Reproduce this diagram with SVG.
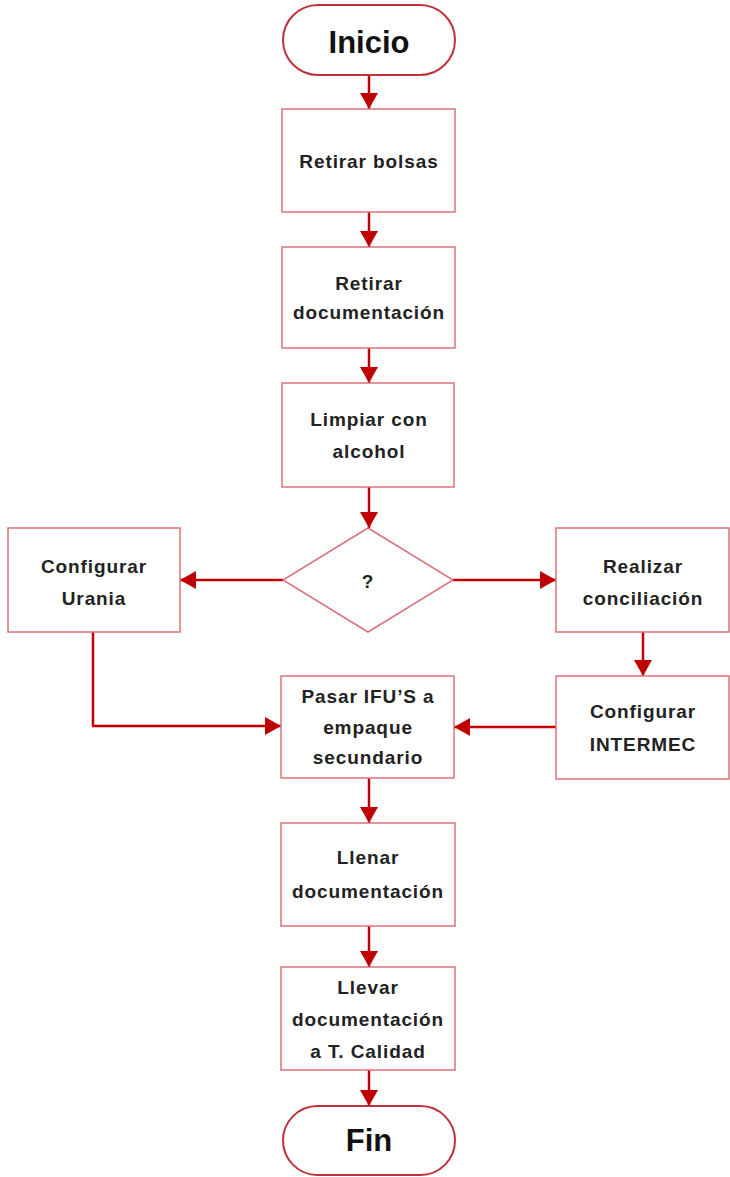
<svg xmlns="http://www.w3.org/2000/svg" width="730" height="1177" viewBox="0 0 730 1177">
  <style>
    .box { fill: #ffffff; stroke: #d9737b; stroke-width: 1.5; }
    .term { fill: #ffffff; stroke: #c0303a; stroke-width: 2; }
    .lbl { font-family: "Liberation Sans", Arial, sans-serif; font-weight: bold; font-size: 19px; fill: #222222; text-anchor: middle; letter-spacing: 0.9px; }
    .big { font-family: "Liberation Sans", Arial, sans-serif; font-weight: bold; font-size: 31px; fill: #111111; text-anchor: middle; }
    .flow { fill: none; stroke: #c00000; stroke-width: 2.5; marker-end: url(#head); }
  </style>
  <defs>
    <marker id="head" markerUnits="userSpaceOnUse" markerWidth="17" markerHeight="18" refX="16" refY="9" orient="auto">
      <polygon points="0,0 16,9 0,18" fill="#c00000"/>
    </marker>
  </defs>
  <rect width="730" height="1177" fill="#ffffff"/>

  <g id="connectors">
    <line class="flow" x1="369" y1="75" x2="369" y2="109"/>
    <line class="flow" x1="369" y1="212" x2="369" y2="247"/>
    <line class="flow" x1="369" y1="348" x2="369" y2="383"/>
    <line class="flow" x1="369" y1="487" x2="369" y2="528"/>
    <line class="flow" x1="283" y1="580" x2="180" y2="580"/>
    <line class="flow" x1="453" y1="580" x2="556" y2="580"/>
    <line class="flow" x1="643" y1="632" x2="643" y2="676"/>
    <polyline class="flow" points="93,632 93,726 281,726"/>
    <line class="flow" x1="556" y1="727" x2="454" y2="727"/>
    <line class="flow" x1="369" y1="778" x2="369" y2="823"/>
    <line class="flow" x1="369" y1="926" x2="369" y2="967"/>
    <line class="flow" x1="369" y1="1070" x2="369" y2="1106"/>
  </g>

  <g id="inicio">
    <rect class="term" x="283" y="5" width="172" height="70" rx="35" ry="35"/>
    <text class="big" x="369" y="53">Inicio</text>
  </g>
  <g id="retirar-bolsas">
    <rect class="box" x="282" y="109" width="173" height="103"/>
    <text class="lbl" x="369" y="168">Retirar bolsas</text>
  </g>
  <g id="retirar-documentacion">
    <rect class="box" x="282" y="247" width="173" height="101"/>
    <text class="lbl" x="369" y="290">Retirar</text>
    <text class="lbl" x="369" y="319">documentación</text>
  </g>
  <g id="limpiar">
    <rect class="box" x="282" y="383" width="172" height="104"/>
    <text class="lbl" x="369" y="426">Limpiar con</text>
    <text class="lbl" x="369" y="458">alcohol</text>
  </g>
  <g id="decision">
    <polygon class="box" points="368,528 453,580 368,632 283,580"/>
    <text class="lbl" x="368" y="588">?</text>
  </g>
  <g id="configurar-urania">
    <rect class="box" x="8" y="528" width="172" height="104"/>
    <text class="lbl" x="94" y="573">Configurar</text>
    <text class="lbl" x="94" y="605">Urania</text>
  </g>
  <g id="realizar-conciliacion">
    <rect class="box" x="556" y="528" width="173" height="104"/>
    <text class="lbl" x="643" y="573">Realizar</text>
    <text class="lbl" x="643" y="605">conciliación</text>
  </g>
  <g id="pasar-ifus">
    <rect class="box" x="281" y="676" width="173" height="102"/>
    <text class="lbl" x="368" y="703">Pasar IFU’S a</text>
    <text class="lbl" x="368" y="734">empaque</text>
    <text class="lbl" x="368" y="764">secundario</text>
  </g>
  <g id="configurar-intermec">
    <rect class="box" x="556" y="676" width="173" height="103"/>
    <text class="lbl" x="643" y="718">Configurar</text>
    <text class="lbl" x="643" y="751">INTERMEC</text>
  </g>
  <g id="llenar-documentacion">
    <rect class="box" x="281" y="823" width="174" height="103"/>
    <text class="lbl" x="368" y="864">Llenar</text>
    <text class="lbl" x="368" y="898">documentación</text>
  </g>
  <g id="llevar-documentacion">
    <rect class="box" x="281" y="967" width="174" height="103"/>
    <text class="lbl" x="368" y="994">Llevar</text>
    <text class="lbl" x="368" y="1026">documentación</text>
    <text class="lbl" x="368" y="1058">a T. Calidad</text>
  </g>
  <g id="fin">
    <rect class="term" x="283" y="1106" width="172" height="69" rx="34.5" ry="34.5"/>
    <text class="big" x="369" y="1151">Fin</text>
  </g>
</svg>
